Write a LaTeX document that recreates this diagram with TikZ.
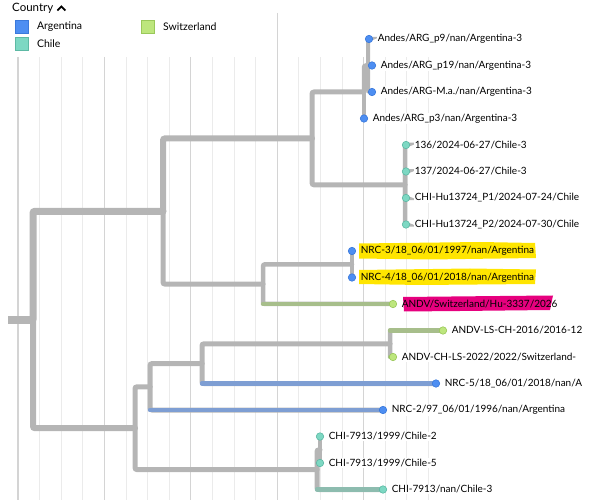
\documentclass[tikz,border=0pt]{standalone}
\usepackage{fontspec}
\setmainfont{Lato}
\usetikzlibrary{positioning}

\definecolor{brgrey}{HTML}{B5B5B5}
\definecolor{brblue}{HTML}{7E9ED3}
\definecolor{brgreen}{HTML}{A7BE8B}
\definecolor{brteal}{HTML}{8DBCAF}
\definecolor{argfill}{HTML}{4D8EF2}
\definecolor{argline}{HTML}{3A79DB}
\definecolor{chifill}{HTML}{7DD8C3}
\definecolor{chiline}{HTML}{5DB9A4}
\definecolor{swifill}{HTML}{BDE67D}
\definecolor{swiline}{HTML}{9AC85A}
\definecolor{gridminor}{HTML}{EBEBEB}
\definecolor{gridmajor}{HTML}{D4D4D4}
\definecolor{hlyellow}{HTML}{FFE500}
\definecolor{hlpink}{HTML}{E6007E}

\tikzset{
  branch/.style = {brgrey, line width = #1, rounded corners = 2pt, line cap = round},
  branch/.default = 5pt,
  twig/.style = {#1, line width = 4.5pt, line cap = round},
  tipdot/.style = {circle, inner sep = 0pt, minimum size = 7.5pt, line width = 0.6pt},
  tipA/.style = {tipdot, draw = argline, fill = argfill},
  tipC/.style = {tipdot, draw = chiline, fill = chifill},
  tipS/.style = {tipdot, draw = swiline, fill = swifill},
  lab/.style = {font = \fontsize{10}{12}\selectfont, inner sep = 1pt, fill = white},
  keylab/.style = {font = \fontsize{10.5}{12}\selectfont, inner sep = 1pt},
  legbox/.style = {minimum size = 13pt, inner sep = 0pt, line width = 0.8pt},
}

\begin{document}
\begin{tikzpicture}[x = 1pt, y = -1pt]
    \useasboundingbox (0, 0) rectangle (590, 500);
    \clip (0, 0) rectangle (590, 500);

    % time grid
    \foreach \k in {0, ..., 19} {
      \pgfmathsetmacro{\gx}{18 + 21.6*\k}
      \ifnum\numexpr\k-4*(\k/4)\relax=0
        \draw[gridmajor, line width = 1.3pt] (\gx, 57) -- (\gx, 500);
      \else
        \draw[gridminor, line width = 1pt] (\gx, 57) -- (\gx, 500);
      \fi
    }
    \draw[gridmajor, line width = 1.3pt] (277.2, 13) -- (277.2, 57);

    % legend
    \node[anchor = west, font = \fontsize{11.5}{13}\selectfont, inner sep = 0pt] (country) at (12, 8) {Country};
    \draw[line width = 1.8pt] ([xshift = 4pt, yshift = -2.5pt] country.east) -- ++(4, -4) -- ++(4, 4);
    \node[legbox, draw = argline, fill = argfill] (keyA) at (22, 27) {};
    \node[legbox, draw = chiline, fill = chifill] (keyC) at (22, 43.7) {};
    \node[legbox, draw = swiline, fill = swifill] (keyS) at (148, 27) {};
    \node[keylab, right = 7pt of keyA] {Argentina};
    \node[keylab, right = 7pt of keyC] {Chile};
    \node[keylab, right = 7pt of keyS] {Switzerland};

    % internal nodes
    \coordinate (rs) at (8, 319.7);
    \coordinate (root) at (33, 319.7);
    \coordinate (n1) at (163, 211.3);
    \coordinate (n2) at (312, 138.4);
    \coordinate (nA) at (364, 92);
    \coordinate (nAs) at (368, 65.5);
    \coordinate (nC) at (405, 184.8);
    \coordinate (n3) at (263, 284.1);
    \coordinate (nN) at (352, 264.3);
    \coordinate (n4) at (135, 428.2);
    \coordinate (n5) at (150, 386.8);
    \coordinate (n6) at (202, 363.6);
    \coordinate (nS) at (390, 343.8);
    \coordinate (n7) at (317, 469.6);
    \coordinate (nCs) at (320, 449.8);

    % tips
    \coordinate (t1) at (369, 39);
    \coordinate (t2) at (372, 65.5);
    \coordinate (t3) at (372, 92);
    \coordinate (t4) at (364, 118.5);
    \coordinate (t5) at (406, 145);
    \coordinate (t6) at (406, 171.5);
    \coordinate (t7) at (406, 198);
    \coordinate (t8) at (406, 224.5);
    \coordinate (t9) at (352, 251);
    \coordinate (t10) at (352, 277.5);
    \coordinate (t11) at (393, 304);
    \coordinate (t12) at (443, 330.5);
    \coordinate (t13) at (393, 357);
    \coordinate (t14) at (436, 383.5);
    \coordinate (t15) at (383, 410);
    \coordinate (t16) at (320, 436.5);
    \coordinate (t17) at (320, 463);
    \coordinate (t18) at (383, 489.5);

    % branches
    \draw[branch = 8pt, line cap = butt] (rs) -- (root);
    \draw[branch = 7pt] (root) |- (n1);
    \draw[branch = 6pt] (root) |- (n4);
    \draw[branch = 6pt] (n1) |- (n2);
    \draw[branch = 5pt] (n1) |- (n3);
    \draw[branch = 5pt] (n2) |- (nA);
    \draw[branch = 5pt] (n2) |- (nC);
    \draw[branch = 4.5pt] (nA) |- (nAs);
    \draw[branch = 4.5pt] (nA) |- (t4);
    \draw[branch = 4pt] (nAs) |- (t1);
    \draw[branch = 4pt] (nAs) |- (t2);
    \draw[branch = 4pt] (nAs) |- (t3);
    \draw[branch = 4.5pt] (nC) |- (t5);
    \draw[branch = 4.5pt] (nC) |- (t8);
    \draw[branch = 4.5pt] (nC) |- (t6);
    \draw[branch = 4.5pt] (nC) |- (t7);
    \draw[branch = 4.5pt] (n3) |- (nN);
    \draw[branch = 4.5pt] (nN) |- (t9);
    \draw[branch = 4.5pt] (nN) |- (t10);
    \draw[branch = 4.5pt] (n3) |- (t11);
    \draw[twig = brgreen] (n3 |- t11) -- (t11);

    \draw[branch = 5pt] (n4) |- (n5);
    \draw[branch = 5pt] (n4) |- (n7);
    \draw[branch = 5pt] (n5) |- (n6);
    \draw[branch = 5pt] (n5) |- (t15);
    \draw[twig = brblue] (n5 |- t15) -- (t15);
    \draw[branch = 5pt] (n6) |- (nS);
    \draw[branch = 5pt] (n6) |- (t14);
    \draw[twig = brblue] (n6 |- t14) -- (t14);
    \draw[branch = 4.5pt] (nS) |- (t12);
    \draw[branch = 4.5pt] (nS) |- (t13);
    \draw[twig = brgreen] (nS |- t12) -- (t12);
    \draw[twig = brgreen] (nS |- t13) -- (t13);
    \draw[branch = 5pt] (n7) |- (nCs);
    \draw[branch = 5pt] (n7) |- (t18);
    \draw[twig = brteal] (n7 |- t18) -- (t18);
    \draw[branch = 4.5pt] (nCs) |- (t16);
    \draw[branch = 4.5pt] (nCs) |- (t17);

    % marker highlights
    \fill[hlyellow] (359, 243.5) -- (480, 242) -- (535, 243) -- (536, 258) -- (430, 259.5) -- (359, 258.5) -- cycle;
    \fill[hlyellow] (359, 270) -- (470, 268.5) -- (536, 269.5) -- (535, 284) -- (420, 285) -- (359, 284) -- cycle;
    \fill[hlpink] (403, 297) -- (500, 296) -- (553, 295.5) -- (550, 310) -- (460, 311) -- (404, 311.5) -- cycle;

    % tip dots
    \node[tipA] (d1) at (t1) {};
    \node[tipA] (d2) at (t2) {};
    \node[tipA] (d3) at (t3) {};
    \node[tipA] (d4) at (t4) {};
    \node[tipC] (d5) at (t5) {};
    \node[tipC] (d6) at (t6) {};
    \node[tipC] (d7) at (t7) {};
    \node[tipC] (d8) at (t8) {};
    \node[tipA] (d9) at (t9) {};
    \node[tipA] (d10) at (t10) {};
    \node[tipS] (d11) at (t11) {};
    \node[tipS] (d12) at (t12) {};
    \node[tipS] (d13) at (t13) {};
    \node[tipA] (d14) at (t14) {};
    \node[tipA] (d15) at (t15) {};
    \node[tipC] (d16) at (t16) {};
    \node[tipC] (d17) at (t17) {};
    \node[tipC] (d18) at (t18) {};

    % tip labels
    \node[lab, right = 3.5pt of d1] {Andes/ARG\_p9/nan/Argentina-3};
    \node[lab, right = 3.5pt of d2] {Andes/ARG\_p19/nan/Argentina-3};
    \node[lab, right = 3.5pt of d3] {Andes/ARG-M.a./nan/Argentina-3};
    \node[lab, right = 3.5pt of d4] {Andes/ARG\_p3/nan/Argentina-3};
    \node[lab, right = 3.5pt of d5] {136/2024-06-27/Chile-3};
    \node[lab, right = 3.5pt of d6] {137/2024-06-27/Chile-3};
    \node[lab, right = 3.5pt of d7] {CHI-Hu13724\_P1/2024-07-24/Chile};
    \node[lab, right = 3.5pt of d8] {CHI-Hu13724\_P2/2024-07-30/Chile};
    \node[lab, fill = none, right = 3.5pt of d9] {NRC-3/18\_06/01/1997/nan/Argentina};
    \node[lab, fill = none, right = 3.5pt of d10] {NRC-4/18\_06/01/2018/nan/Argentina};
    \node[lab, fill = none, right = 3.5pt of d11] {ANDV/Switzerland/Hu-3337/2026};
    \node[lab, right = 3.5pt of d12] {ANDV-LS-CH-2016/2016-12};
    \node[lab, right = 3.5pt of d13] {ANDV-CH-LS-2022/2022/Switzerland-};
    \node[lab, right = 3.5pt of d14] {NRC-5/18\_06/01/2018/nan/A};
    \node[lab, right = 3.5pt of d15] {NRC-2/97\_06/01/1996/nan/Argentina};
    \node[lab, right = 3.5pt of d16] {CHI-7913/1999/Chile-2};
    \node[lab, right = 3.5pt of d17] {CHI-7913/1999/Chile-5};
    \node[lab, right = 3.5pt of d18] {CHI-7913/nan/Chile-3};
\end{tikzpicture}
\end{document}
